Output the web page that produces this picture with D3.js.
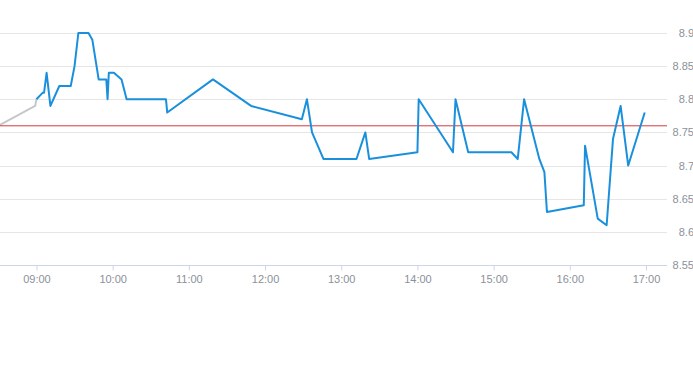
<!DOCTYPE html>
<html><head><meta charset="utf-8">
<script src="https://cdn.jsdelivr.net/npm/d3@7/dist/d3.min.js"></script>
<style>body{margin:0;background:#fff;}svg{display:block;}</style>
</head><body>
<script>
// ---- data ----
const preTimes  = ["08:30","08:59","09:00"];
const preValues = [8.76, 8.79, 8.80];
const times = ["09:00","09:05","09:06","09:08","09:11","09:18","09:27","09:30","09:33","09:41","09:44","09:49","09:55","09:56","09:57","10:01","10:07","10:11","10:42","10:43","11:19","11:49","12:29","12:33","12:37","12:46","13:12","13:19","13:22","14:00","14:01","14:28","14:30","14:40","15:14","15:19","15:24","15:36","15:40","15:42","16:11","16:12","16:22","16:29","16:34","16:40","16:46","16:59"];
const values = [8.80,8.81,8.81,8.84,8.79,8.82,8.82,8.85,8.90,8.90,8.89,8.83,8.83,8.80,8.84,8.84,8.83,8.80,8.80,8.78,8.83,8.79,8.77,8.80,8.75,8.71,8.71,8.75,8.71,8.72,8.80,8.72,8.80,8.72,8.72,8.71,8.80,8.71,8.69,8.63,8.64,8.73,8.62,8.61,8.74,8.79,8.70,8.78];
const prevClose = 8.76;
const yTicks = [8.55,8.6,8.65,8.7,8.75,8.8,8.85,8.9];
const xTickLabels = ["09:00","10:00","11:00","12:00","13:00","14:00","15:00","16:00","17:00"];

const W = 693, H = 365;
const parse = s => { const [h,m] = s.split(":").map(Number); return new Date(2020,0,1,h,m,0); };
const svg = d3.select("body").append("svg").attr("width",W).attr("height",H);

const x = d3.scaleTime()
  .domain([new Date(2020,0,1,8,31,18), new Date(2020,0,1,17,16,32)])
  .range([0, 667]);
const y = d3.scaleLinear().domain([8.55, 8.9]).range([265, 33]);

// grid
svg.append("g").selectAll("line").data(yTicks).join("line")
  .attr("x1",0).attr("x2",667)
  .attr("y1",d=>Math.round(y(d))+0.5).attr("y2",d=>Math.round(y(d))+0.5)
  .attr("stroke","#e6e6e6").attr("stroke-width",1);

// y labels
svg.append("g").selectAll("text").data(yTicks).join("text")
  .attr("x",694).attr("y",d=>y(d)+4)
  .attr("text-anchor","end")
  .attr("font-family","Liberation Sans, Arial, sans-serif")
  .attr("font-size",11).attr("fill","#8b9199")
  .text(d=>d3.format("")(+d.toFixed(2)));

// x axis
const xAxis = d3.axisBottom(x)
  .tickValues(xTickLabels.map(parse))
  .tickFormat(d3.timeFormat("%H:%M"))
  .tickSize(5).tickSizeOuter(0);
const gx = svg.append("g").attr("transform","translate(0,265.5)").call(xAxis);
gx.select(".domain").attr("stroke","#ccd6eb").attr("d","M0,0H667");
gx.selectAll(".tick line").attr("stroke","#ccd6eb");
gx.selectAll(".tick text").attr("fill","#8b9199")
  .attr("font-family","Liberation Sans, Arial, sans-serif").attr("font-size",11).attr("dy","0.9em");

// clip
svg.append("clipPath").attr("id","clip").append("rect").attr("x",0).attr("y",0).attr("width",667).attr("height",300);

const line = d3.line().x(d=>x(d[0])).y(d=>y(d[1]));

svg.append("path")
  .datum(preTimes.map((t,i)=>[parse(t),preValues[i]]))
  .attr("clip-path","url(#clip)")
  .attr("d",line).attr("fill","none").attr("stroke","#c4c7cb").attr("stroke-width",2);

// previous close
svg.append("line").attr("x1",0).attr("x2",667)
  .attr("y1",y(prevClose)).attr("y2",y(prevClose))
  .attr("stroke","#d63a3a").attr("stroke-width",1);

svg.append("path")
  .datum(times.map((t,i)=>[parse(t),values[i]]))
  .attr("d",line).attr("fill","none").attr("stroke","#1a90dc")
  .attr("stroke-width",2).attr("stroke-linejoin","round");
</script>
</body></html>
